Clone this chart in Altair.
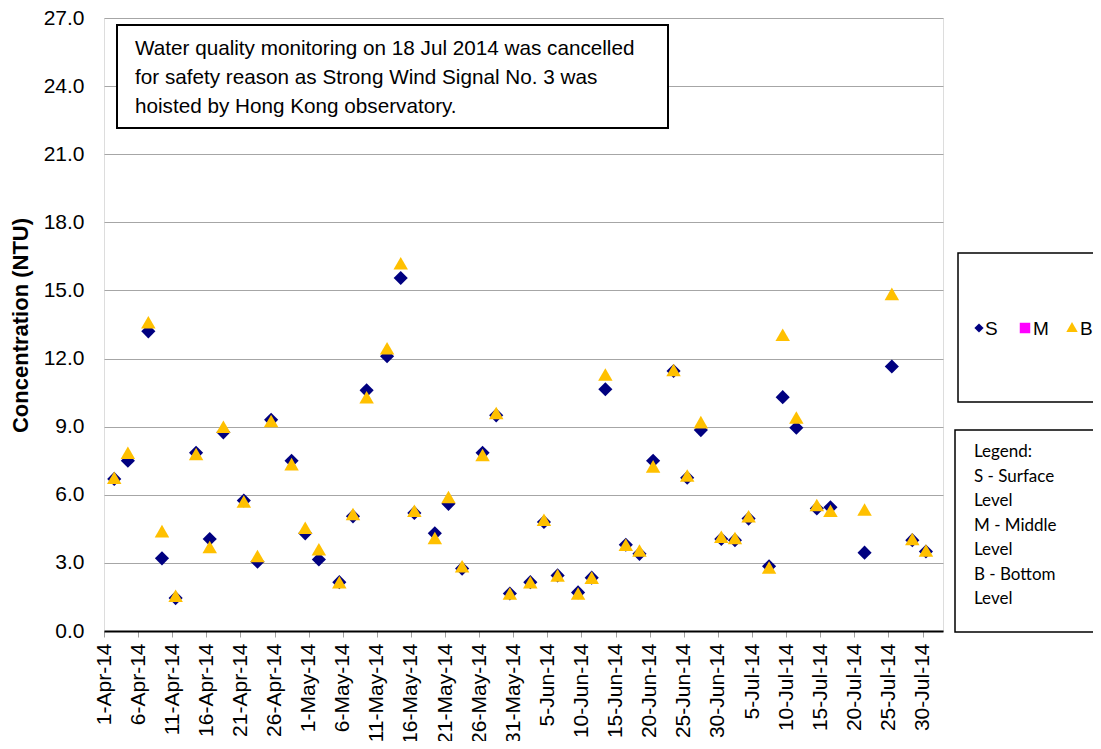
import altair as alt
import pandas as pd

# ---------------- data ----------------
dates = [
    "2014-04-02", "2014-04-04", "2014-04-07", "2014-04-09", "2014-04-11", "2014-04-14",
    "2014-04-16", "2014-04-18", "2014-04-21", "2014-04-23", "2014-04-25", "2014-04-28",
    "2014-04-30", "2014-05-02", "2014-05-05", "2014-05-07", "2014-05-09", "2014-05-12",
    "2014-05-14", "2014-05-16", "2014-05-19", "2014-05-21", "2014-05-23", "2014-05-26",
    "2014-05-28", "2014-05-30", "2014-06-02", "2014-06-04", "2014-06-06", "2014-06-09",
    "2014-06-11", "2014-06-13", "2014-06-16", "2014-06-18", "2014-06-20", "2014-06-23",
    "2014-06-25", "2014-06-27", "2014-06-30", "2014-07-02", "2014-07-04", "2014-07-07",
    "2014-07-09", "2014-07-11", "2014-07-14", "2014-07-16", "2014-07-21", "2014-07-25",
    "2014-07-28", "2014-07-30",
]
surface = [
    6.7, 7.5, 13.2, 3.2, 1.45, 7.85, 4.05, 8.75, 5.75, 3.05, 9.3, 7.5,
    4.3, 3.15, 2.15, 5.05, 10.6, 12.1, 15.55, 5.2, 4.3, 5.6, 2.75, 7.85,
    9.5, 1.65, 2.15, 4.8, 2.45, 1.7, 2.35, 10.65, 3.8, 3.4, 7.5, 11.45,
    6.75, 8.85, 4.05, 4.0, 4.95, 2.85, 10.3, 8.95, 5.4, 5.45, 3.45, 11.65,
    4.0, 3.5,
]
bottom = [
    6.75, 7.85, 13.6, 4.4, 1.55, 7.8, 3.7, 9.0, 5.7, 3.3, 9.25, 7.35,
    4.55, 3.6, 2.15, 5.15, 10.3, 12.45, 16.2, 5.3, 4.1, 5.9, 2.85, 7.75,
    9.6, 1.65, 2.15, 4.9, 2.45, 1.65, 2.35, 11.3, 3.8, 3.55, 7.25, 11.5,
    6.85, 9.2, 4.15, 4.1, 5.05, 2.8, 13.05, 9.4, 5.55, 5.3, 5.35, 14.85,
    4.05, 3.55,
]
y_ticks = [0, 3, 6, 9, 12, 15, 18, 21, 24, 27]
x_tick_dates = pd.date_range("2014-04-01", "2014-07-30", freq="5D")
note_text = ("Water quality monitoring on 18 Jul 2014 was cancelled\n"
             "for safety reason as Strong Wind Signal No. 3 was\n"
             "hoisted by Hong Kong observatory.")
legend_note = "Legend:\nS - Surface\nLevel\nM - Middle\nLevel\nB - Bottom\nLevel"

# points sit in the middle of their day (Excel date axis, between tick marks)
mid = [d + "T12:00:00" for d in dates]
df_s = pd.DataFrame({"date": mid, "value": surface, "series": "S"})
df_b = pd.DataFrame({"date": mid, "value": bottom, "series": "B"})

FONT = "Liberation Sans"
W, H = 839, 613

x_enc = alt.X(
    "date:T",
    scale=alt.Scale(domain=[alt.DateTime(year=2014, month=4, date=1),
                            alt.DateTime(year=2014, month=8, date=2)]),
    axis=alt.Axis(
        values=[alt.DateTime(year=d.year, month=d.month, date=d.day) for d in x_tick_dates],
        format="%-d-%b-%y", labelAngle=-90, labelFont=FONT, labelFontSize=21,
        labelColor="#000", labelPadding=6, tickSize=6, tickColor="#a0a0a0",
        domainColor="#000", domainWidth=2, grid=False, title=None,
    ),
)
y_enc = alt.Y(
    "value:Q",
    scale=alt.Scale(domain=[0, 27], nice=False),
    axis=alt.Axis(
        values=y_ticks, format=".1f", labelFont=FONT, labelFontSize=21, labelColor="#000",
        labelPadding=20, ticks=False, domain=False, gridColor="#a6a6a6", gridWidth=1,
        title="Concentration (NTU)", titleFont=FONT, titleFontSize=22, titleFontWeight="bold",
        titleColor="#000", titleX=-84, titleY=307, titleAngle=270, titleBaseline="middle",
        titleAlign="center",
    ),
)

s_layer = alt.Chart(df_s).mark_point(
    shape="diamond", filled=True, color="#000080", size=200, opacity=1
).encode(x=x_enc, y=y_enc)
b_layer = alt.Chart(df_b).mark_point(
    shape="triangle-up", filled=True, color="#FFC000", size=210, opacity=1
).encode(x=x_enc, y=y_enc)

one = pd.DataFrame({"k": [0]})

note_box = alt.Chart(one).mark_rect(fill="white", stroke="#000", strokeWidth=2).encode(
    x=alt.value(13), x2=alt.value(564), y=alt.value(7), y2=alt.value(110))
note = alt.Chart(one).mark_text(
    align="left", baseline="middle", font=FONT, fontSize=20.7, color="#000",
    lineBreak="\n", lineHeight=29,
).encode(x=alt.value(31), y=alt.value(31), text=alt.value(note_text))

leg_box = alt.Chart(one).mark_rect(fill="white", stroke="#000", strokeWidth=1.5).encode(
    x=alt.value(854), x2=alt.value(1010), y=alt.value(235), y2=alt.value(384))
leg_s = alt.Chart(one).mark_point(shape="diamond", filled=True, color="#000080",
                                  size=85, opacity=1).encode(
    x=alt.value(875), y=alt.value(310))
leg_m = alt.Chart(one).mark_point(shape="square", filled=True, color="#FF00FF",
                                  size=110, opacity=1).encode(
    x=alt.value(921), y=alt.value(310))
leg_b = alt.Chart(one).mark_point(shape="triangle-up", filled=True, color="#FFC000",
                                  size=130, opacity=1).encode(
    x=alt.value(968), y=alt.value(309))
leg_txt_s = alt.Chart(one).mark_text(align="left", baseline="middle", font=FONT,
                                     fontSize=19, color="#000").encode(
    x=alt.value(881), y=alt.value(311), text=alt.value("S"))
leg_txt_m = alt.Chart(one).mark_text(align="left", baseline="middle", font=FONT,
                                     fontSize=19, color="#000").encode(
    x=alt.value(929), y=alt.value(311), text=alt.value("M"))
leg_txt_b = alt.Chart(one).mark_text(align="left", baseline="middle", font=FONT,
                                     fontSize=19, color="#000").encode(
    x=alt.value(976), y=alt.value(311), text=alt.value("B"))

note2_box = alt.Chart(one).mark_rect(fill="white", stroke="#000", strokeWidth=1.5).encode(
    x=alt.value(851), x2=alt.value(1010), y=alt.value(412), y2=alt.value(614))
note2 = alt.Chart(one).mark_text(
    align="left", baseline="middle", font="Lato", fontSize=17, color="#000",
    lineBreak="\n", lineHeight=24.5,
).encode(x=alt.value(870), y=alt.value(434), text=alt.value(legend_note))

chart = alt.layer(
    s_layer, b_layer, note_box, note, leg_box, leg_s, leg_m, leg_b,
    leg_txt_s, leg_txt_m, leg_txt_b, note2_box, note2,
).properties(
    width=W, height=H,
    autosize=alt.AutoSizeParams(type="none"),
    padding={"left": 96, "top": 10, "right": 150, "bottom": 110},
).configure_view(
    stroke="#000", strokeWidth=2
).configure(background="white")

chart.save("out.html", embed_options={"renderer": "svg", "actions": False})
